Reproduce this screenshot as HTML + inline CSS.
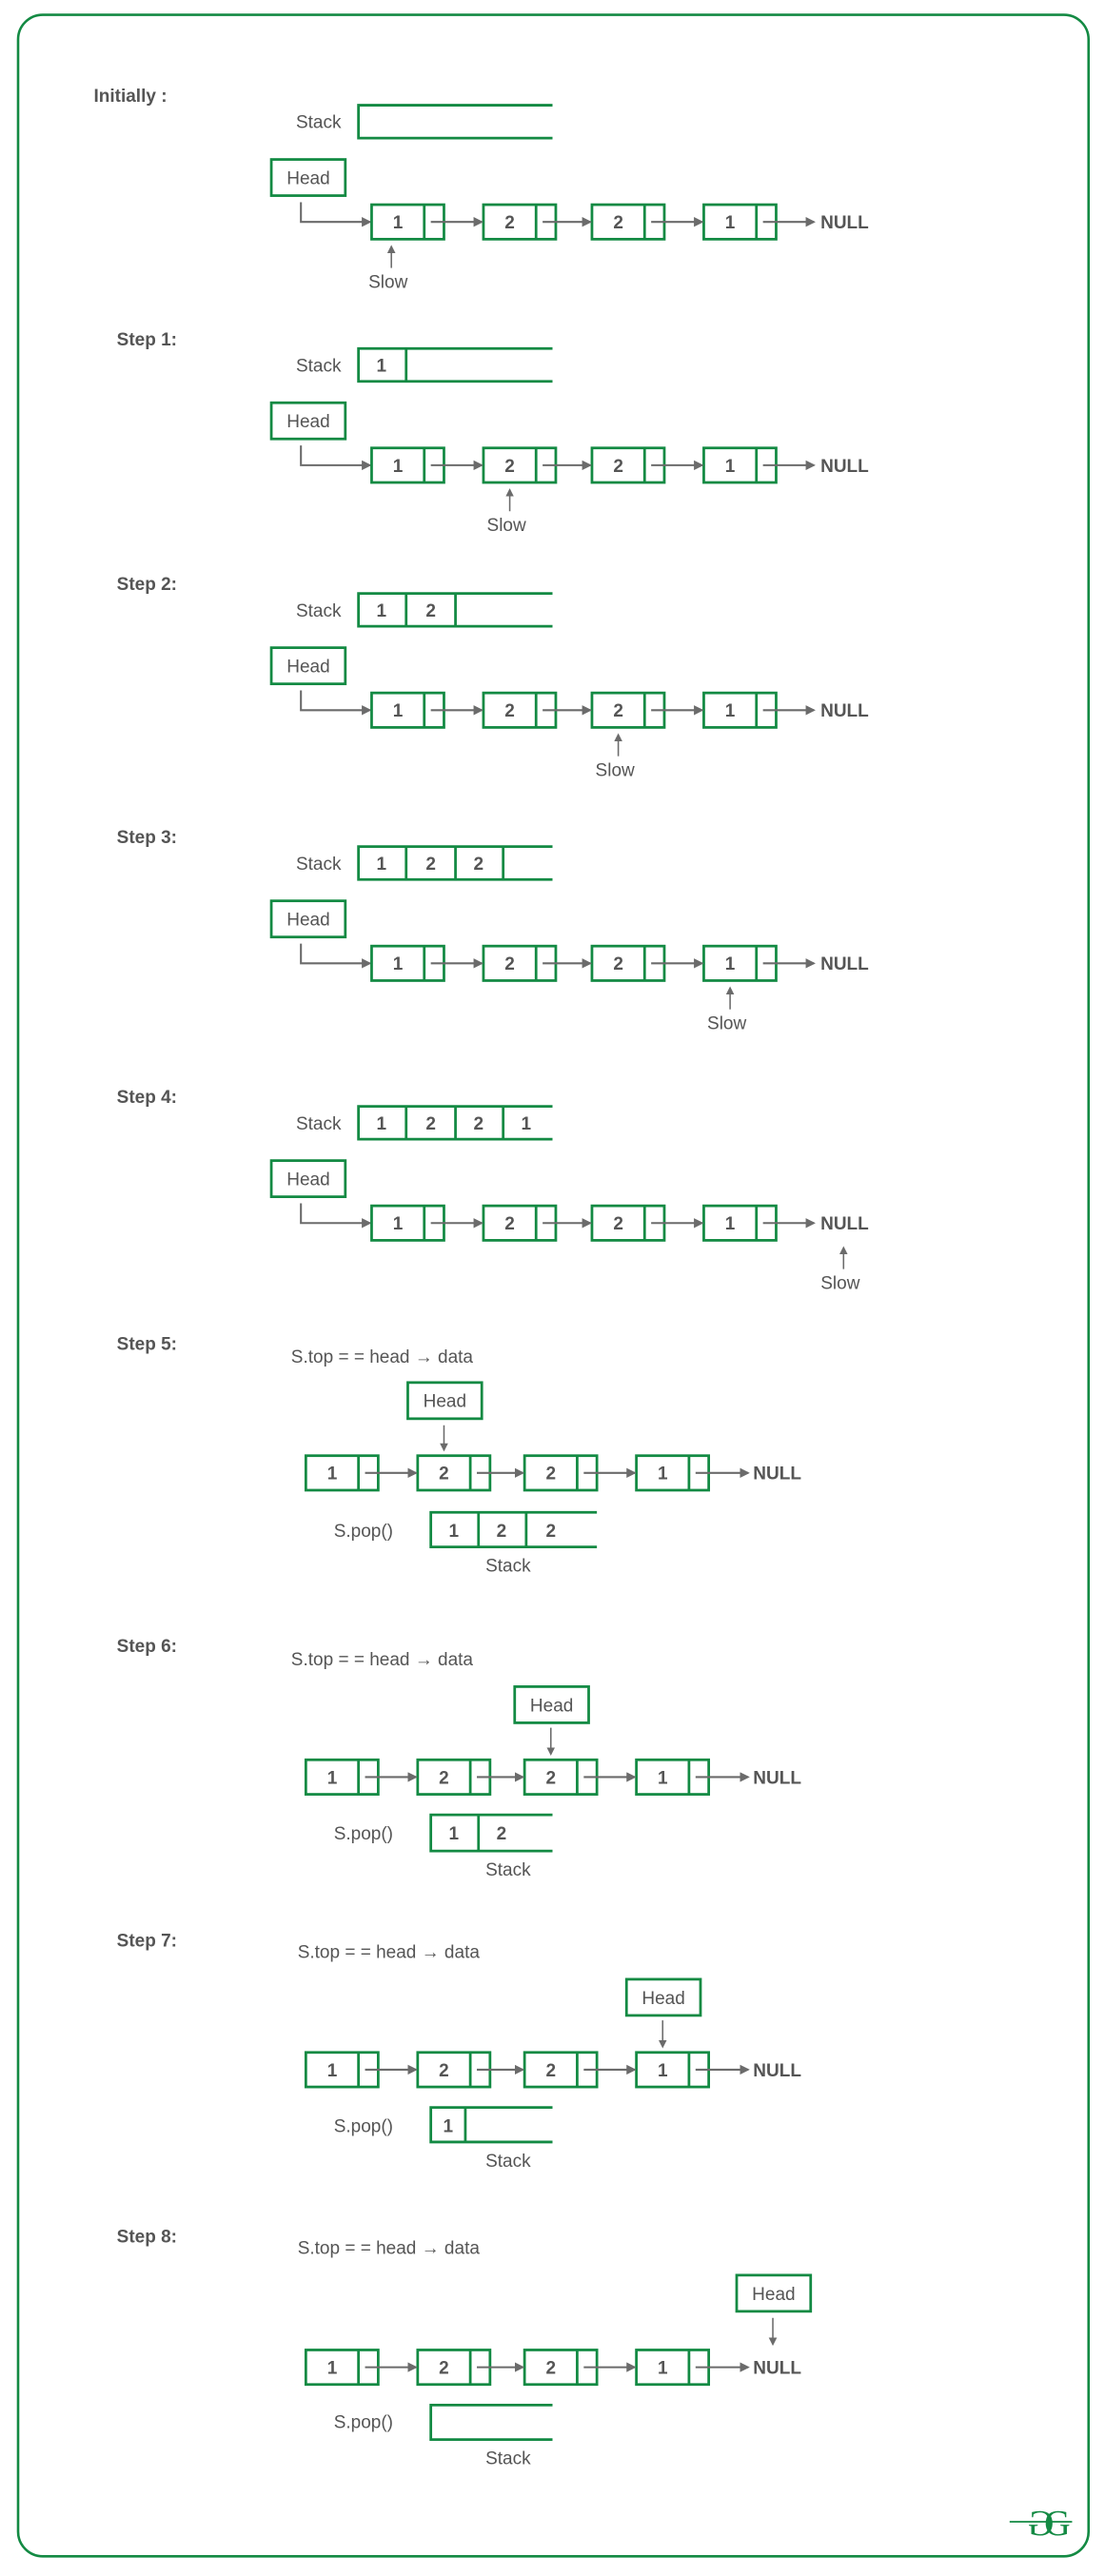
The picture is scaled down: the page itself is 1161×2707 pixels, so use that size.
<!DOCTYPE html>
<html><head><meta charset="utf-8"><style>
html,body{margin:0;padding:0;background:#fff;}
svg{display:block;}
text{font-family:"Liberation Sans",sans-serif;fill:#555;font-size:11px;}
.b{font-weight:bold;}
.c{text-anchor:middle;}
.g{fill:none;stroke:#138a43;stroke-width:1.6;}
.a{fill:none;stroke:#6b6b6b;stroke-width:1.2;marker-end:url(#ah);}
.t{fill:none;stroke:#6b6b6b;stroke-width:0.9;marker-end:url(#ah2);}
</style></head><body>
<svg width="1161" height="2707" viewBox="0 0 672 1567" preserveAspectRatio="none" xmlns="http://www.w3.org/2000/svg">
<defs>
<marker id="ah" markerWidth="6" markerHeight="6" refX="5" refY="3" orient="auto" markerUnits="userSpaceOnUse"><path d="M0,0 L6,3 L0,6z" fill="#6b6b6b"/></marker>
<marker id="ah2" markerWidth="5" markerHeight="5" refX="4" refY="2.5" orient="auto" markerUnits="userSpaceOnUse"><path d="M0,0 L5,2.5 L0,5z" fill="#6b6b6b"/></marker>
<g id="n1"><rect class="g" x="0" y="-10.5" width="44" height="21"/><line class="g" x1="32" y1="-10.5" x2="32" y2="10.5"/></g>
</defs>
<rect x="11" y="9" width="651" height="1546" rx="15" fill="none" stroke="#138a43" stroke-width="1.5"/>

<!-- Initially -->
<text x="57" y="62" class="b">Initially :</text>
<text x="180" y="78">Stack</text>
<path class="g" d="M336 64 H218 V84 H336"/>
<rect class="g" x="165" y="97" width="45" height="22"/><text x="187.5" y="112" class="c">Head</text>
<path class="a" d="M183 123 V135 H225"/>
<use href="#n1" x="226" y="135"/><text x="242" y="139" class="c b">1</text>
<use href="#n1" x="294" y="135"/><text x="310" y="139" class="c b">2</text>
<use href="#n1" x="360" y="135"/><text x="376" y="139" class="c b">2</text>
<use href="#n1" x="428" y="135"/><text x="444" y="139" class="c b">1</text>
<line class="a" x1="262" y1="135" x2="293" y2="135"/><line class="a" x1="330" y1="135" x2="359" y2="135"/><line class="a" x1="396" y1="135" x2="427" y2="135"/><line class="a" x1="464" y1="135" x2="495" y2="135"/>
<text x="499" y="139" class="b">NULL</text>
<line class="t" x1="238" y1="163" x2="238" y2="150"/><text x="236" y="175" class="c">Slow</text>

<!-- Step 1 -->
<text x="71" y="210" class="b">Step 1:</text>
<text x="180" y="226">Stack</text>
<path class="g" d="M336 212 H218 V232 H336 M247 212 V232"/>
<text x="232" y="226" class="c b">1</text>
<rect class="g" x="165" y="245" width="45" height="22"/><text x="187.5" y="260" class="c">Head</text>
<path class="a" d="M183 271 V283 H225"/>
<use href="#n1" x="226" y="283"/><text x="242" y="287" class="c b">1</text>
<use href="#n1" x="294" y="283"/><text x="310" y="287" class="c b">2</text>
<use href="#n1" x="360" y="283"/><text x="376" y="287" class="c b">2</text>
<use href="#n1" x="428" y="283"/><text x="444" y="287" class="c b">1</text>
<line class="a" x1="262" y1="283" x2="293" y2="283"/><line class="a" x1="330" y1="283" x2="359" y2="283"/><line class="a" x1="396" y1="283" x2="427" y2="283"/><line class="a" x1="464" y1="283" x2="495" y2="283"/>
<text x="499" y="287" class="b">NULL</text>
<line class="t" x1="310" y1="311" x2="310" y2="298"/><text x="308" y="323" class="c">Slow</text>

<!-- Step 2 -->
<text x="71" y="359" class="b">Step 2:</text>
<text x="180" y="375">Stack</text>
<path class="g" d="M336 361 H218 V381 H336 M247 361 V381 M277 361 V381"/>
<text x="232" y="375" class="c b">1</text><text x="262" y="375" class="c b">2</text>
<rect class="g" x="165" y="394" width="45" height="22"/><text x="187.5" y="409" class="c">Head</text>
<path class="a" d="M183 420 V432 H225"/>
<use href="#n1" x="226" y="432"/><text x="242" y="436" class="c b">1</text>
<use href="#n1" x="294" y="432"/><text x="310" y="436" class="c b">2</text>
<use href="#n1" x="360" y="432"/><text x="376" y="436" class="c b">2</text>
<use href="#n1" x="428" y="432"/><text x="444" y="436" class="c b">1</text>
<line class="a" x1="262" y1="432" x2="293" y2="432"/><line class="a" x1="330" y1="432" x2="359" y2="432"/><line class="a" x1="396" y1="432" x2="427" y2="432"/><line class="a" x1="464" y1="432" x2="495" y2="432"/>
<text x="499" y="436" class="b">NULL</text>
<line class="t" x1="376" y1="460" x2="376" y2="447"/><text x="374" y="472" class="c">Slow</text>

<!-- Step 3 -->
<text x="71" y="513" class="b">Step 3:</text>
<text x="180" y="529">Stack</text>
<path class="g" d="M336 515 H218 V535 H336 M247 515 V535 M277 515 V535 M306 515 V535"/>
<text x="232" y="529" class="c b">1</text><text x="262" y="529" class="c b">2</text><text x="291" y="529" class="c b">2</text>
<rect class="g" x="165" y="548" width="45" height="22"/><text x="187.5" y="563" class="c">Head</text>
<path class="a" d="M183 574 V586 H225"/>
<use href="#n1" x="226" y="586"/><text x="242" y="590" class="c b">1</text>
<use href="#n1" x="294" y="586"/><text x="310" y="590" class="c b">2</text>
<use href="#n1" x="360" y="586"/><text x="376" y="590" class="c b">2</text>
<use href="#n1" x="428" y="586"/><text x="444" y="590" class="c b">1</text>
<line class="a" x1="262" y1="586" x2="293" y2="586"/><line class="a" x1="330" y1="586" x2="359" y2="586"/><line class="a" x1="396" y1="586" x2="427" y2="586"/><line class="a" x1="464" y1="586" x2="495" y2="586"/>
<text x="499" y="590" class="b">NULL</text>
<line class="t" x1="444" y1="614" x2="444" y2="601"/><text x="442" y="626" class="c">Slow</text>

<!-- Step 4 -->
<text x="71" y="671" class="b">Step 4:</text>
<text x="180" y="687">Stack</text>
<path class="g" d="M336 673 H218 V693 H336 M247 673 V693 M277 673 V693 M306 673 V693"/>
<text x="232" y="687" class="c b">1</text><text x="262" y="687" class="c b">2</text><text x="291" y="687" class="c b">2</text><text x="320" y="687" class="c b">1</text>
<rect class="g" x="165" y="706" width="45" height="22"/><text x="187.5" y="721" class="c">Head</text>
<path class="a" d="M183 732 V744 H225"/>
<use href="#n1" x="226" y="744"/><text x="242" y="748" class="c b">1</text>
<use href="#n1" x="294" y="744"/><text x="310" y="748" class="c b">2</text>
<use href="#n1" x="360" y="744"/><text x="376" y="748" class="c b">2</text>
<use href="#n1" x="428" y="744"/><text x="444" y="748" class="c b">1</text>
<line class="a" x1="262" y1="744" x2="293" y2="744"/><line class="a" x1="330" y1="744" x2="359" y2="744"/><line class="a" x1="396" y1="744" x2="427" y2="744"/><line class="a" x1="464" y1="744" x2="495" y2="744"/>
<text x="499" y="748" class="b">NULL</text>
<line class="t" x1="513" y1="772" x2="513" y2="759"/><text x="511" y="784" class="c">Slow</text>

<!-- Step 5 -->
<text x="71" y="821" class="b">Step 5:</text>
<text x="177" y="829">S.top = = head → data</text>
<rect class="g" x="248" y="841" width="45" height="22"/><text x="270.5" y="856" class="c">Head</text>
<line class="t" x1="270" y1="867" x2="270" y2="882"/>
<use href="#n1" x="186" y="896"/><text x="202" y="900" class="c b">1</text>
<use href="#n1" x="254" y="896"/><text x="270" y="900" class="c b">2</text>
<use href="#n1" x="319" y="896"/><text x="335" y="900" class="c b">2</text>
<use href="#n1" x="387" y="896"/><text x="403" y="900" class="c b">1</text>
<line class="a" x1="222" y1="896" x2="253" y2="896"/><line class="a" x1="290" y1="896" x2="318" y2="896"/><line class="a" x1="355" y1="896" x2="386" y2="896"/><line class="a" x1="423" y1="896" x2="455" y2="896"/>
<text x="458" y="900" class="b">NULL</text>
<text x="203" y="935">S.pop()</text>
<path class="g" d="M363 920 H262 V941 H363 M291 920 V941 M320 920 V941"/>
<text x="276" y="935" class="c b">1</text><text x="305" y="935" class="c b">2</text><text x="335" y="935" class="c b">2</text>
<text x="309" y="956" class="c">Stack</text>

<!-- Step 6 -->
<text x="71" y="1005" class="b">Step 6:</text>
<text x="177" y="1013">S.top = = head → data</text>
<rect class="g" x="313" y="1026" width="45" height="22"/><text x="335.5" y="1041" class="c">Head</text>
<line class="t" x1="335" y1="1051" x2="335" y2="1067"/>
<use href="#n1" x="186" y="1081"/><text x="202" y="1085" class="c b">1</text>
<use href="#n1" x="254" y="1081"/><text x="270" y="1085" class="c b">2</text>
<use href="#n1" x="319" y="1081"/><text x="335" y="1085" class="c b">2</text>
<use href="#n1" x="387" y="1081"/><text x="403" y="1085" class="c b">1</text>
<line class="a" x1="222" y1="1081" x2="253" y2="1081"/><line class="a" x1="290" y1="1081" x2="318" y2="1081"/><line class="a" x1="355" y1="1081" x2="386" y2="1081"/><line class="a" x1="423" y1="1081" x2="455" y2="1081"/>
<text x="458" y="1085" class="b">NULL</text>
<text x="203" y="1119">S.pop()</text>
<path class="g" d="M336 1104 H262 V1126 H336 M291 1104 V1126"/>
<text x="276" y="1119" class="c b">1</text><text x="305" y="1119" class="c b">2</text>
<text x="309" y="1141" class="c">Stack</text>

<!-- Step 7 -->
<text x="71" y="1184" class="b">Step 7:</text>
<text x="181" y="1191">S.top = = head → data</text>
<rect class="g" x="381" y="1204" width="45" height="22"/><text x="403.5" y="1219" class="c">Head</text>
<line class="t" x1="403" y1="1229" x2="403" y2="1245"/>
<use href="#n1" x="186" y="1259"/><text x="202" y="1263" class="c b">1</text>
<use href="#n1" x="254" y="1259"/><text x="270" y="1263" class="c b">2</text>
<use href="#n1" x="319" y="1259"/><text x="335" y="1263" class="c b">2</text>
<use href="#n1" x="387" y="1259"/><text x="403" y="1263" class="c b">1</text>
<line class="a" x1="222" y1="1259" x2="253" y2="1259"/><line class="a" x1="290" y1="1259" x2="318" y2="1259"/><line class="a" x1="355" y1="1259" x2="386" y2="1259"/><line class="a" x1="423" y1="1259" x2="455" y2="1259"/>
<text x="458" y="1263" class="b">NULL</text>
<text x="203" y="1297">S.pop()</text>
<path class="g" d="M336 1282 H262 V1303 H336 M283 1282 V1303"/>
<text x="272.5" y="1297" class="c b">1</text>
<text x="309" y="1318" class="c">Stack</text>

<!-- Step 8 -->
<text x="71" y="1364" class="b">Step 8:</text>
<text x="181" y="1371">S.top = = head → data</text>
<rect class="g" x="448" y="1384" width="45" height="22"/><text x="470.5" y="1399" class="c">Head</text>
<line class="t" x1="470" y1="1410" x2="470" y2="1426"/>
<use href="#n1" x="186" y="1440"/><text x="202" y="1444" class="c b">1</text>
<use href="#n1" x="254" y="1440"/><text x="270" y="1444" class="c b">2</text>
<use href="#n1" x="319" y="1440"/><text x="335" y="1444" class="c b">2</text>
<use href="#n1" x="387" y="1440"/><text x="403" y="1444" class="c b">1</text>
<line class="a" x1="222" y1="1440" x2="253" y2="1440"/><line class="a" x1="290" y1="1440" x2="318" y2="1440"/><line class="a" x1="355" y1="1440" x2="386" y2="1440"/><line class="a" x1="423" y1="1440" x2="455" y2="1440"/>
<text x="458" y="1444" class="b">NULL</text>
<text x="203" y="1477">S.pop()</text>
<path class="g" d="M336 1463 H262 V1484 H336"/>
<text x="309" y="1499" class="c">Stack</text>

<!-- logo -->
<text x="-633" y="1542" transform="scale(-1,1)" style="fill:#138a43;font-family:'Liberation Serif',serif;font-size:22px" class="c">G</text>
<text x="643" y="1542" style="fill:#138a43;font-family:'Liberation Serif',serif;font-size:22px" class="c">G</text>
<line x1="614" y1="1534" x2="652" y2="1534" stroke="#138a43" stroke-width="1"/>
</svg>
</body></html>
